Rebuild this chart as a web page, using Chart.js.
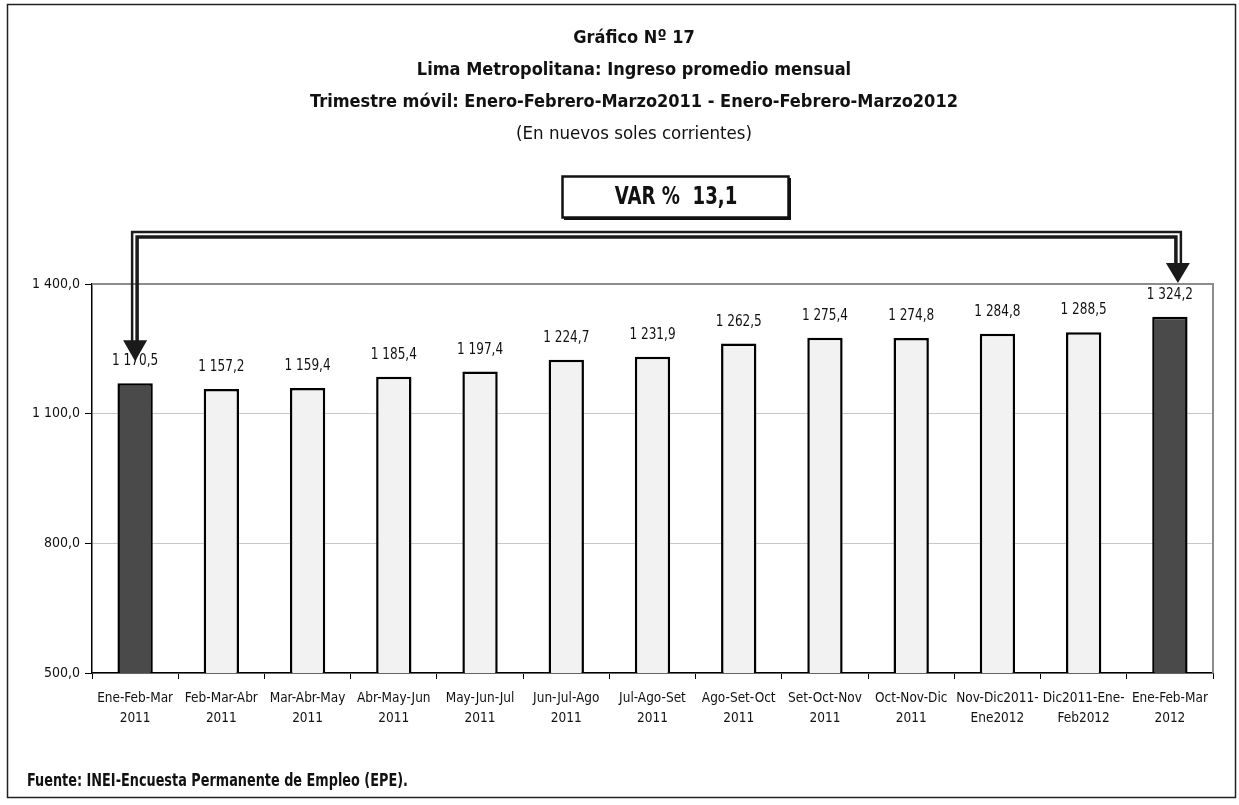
<!DOCTYPE html>
<html>
<head>
<meta charset="utf-8">
<script src="https://cdn.jsdelivr.net/npm/chart.js@4.4.1/dist/chart.umd.min.js"></script>
<style>
  html, body { margin: 0; padding: 0; background: #fff; }
  #wrap { width: 1239px; height: 805px; }
</style>
</head>
<body>
<div id="wrap"><canvas id="ingresoChart" width="1239" height="805"></canvas></div>
<script>
// Datos del gráfico
const trimestres = [
    ['Ene-Feb-Mar', '2011'],
    ['Feb-Mar-Abr', '2011'],
    ['Mar-Abr-May', '2011'],
    ['Abr-May-Jun', '2011'],
    ['May-Jun-Jul', '2011'],
    ['Jun-Jul-Ago', '2011'],
    ['Jul-Ago-Set', '2011'],
    ['Ago-Set-Oct', '2011'],
    ['Set-Oct-Nov', '2011'],
    ['Oct-Nov-Dic', '2011'],
    ['Nov-Dic2011-', 'Ene2012'],
    ['Dic2011-Ene-', 'Feb2012'],
    ['Ene-Feb-Mar', '2012']
];
const ingresos = [1170.5, 1157.2, 1159.4, 1185.4, 1197.4, 1224.7, 1231.9, 1262.5, 1275.4, 1274.8, 1284.8, 1288.5, 1324.2];
const ejeYMin = 500;
const ejeYMax = 1400;
const ejeYPaso = 300;
const titulo = [
    'Gráfico Nº 17',
    'Lima Metropolitana: Ingreso promedio mensual',
    'Trimestre móvil: Enero-Febrero-Marzo2011 - Enero-Febrero-Marzo2012'
];
const subtitulo = '(En nuevos soles corrientes)';
const variacion = 'VAR %  13,1';
const fuente = 'Fuente: INEI-Encuesta Permanente de Empleo (EPE).';

const FONT = "'Liberation Sans Narrow', 'DejaVu Sans Condensed', 'Arial Narrow', sans-serif";
const NARROW = 0.84; // compresión horizontal para textos propios

// 1234.5 -> "1 234,5"
function fmt(v) {
    const parts = v.toFixed(1).split('.');
    return parts[0].replace(/\B(?=(\d{3})+(?!\d))/g, ' ') + ',' + parts[1];
}

// texto comprimido horizontalmente
function narrowText(ctx, txt, x, y, align) {
    ctx.save();
    ctx.translate(x, y);
    ctx.scale(NARROW, 1);
    ctx.textAlign = align;
    ctx.textBaseline = 'middle';
    ctx.fillText(txt, 0, 0);
    ctx.restore();
}

// Dibujos extra: marco, etiquetas, flechas, recuadro VAR y fuente
const decorPlugin = {
    id: 'decor',
    beforeDraw(chart) {
        const ctx = chart.ctx;
        ctx.save();
        ctx.fillStyle = '#fff';
        ctx.fillRect(0, 0, chart.width, chart.height);
        ctx.strokeStyle = '#222';
        ctx.lineWidth = 1.5;
        ctx.strokeRect(7.5, 4.5, 1228, 793);
        ctx.restore();
    },
    afterDatasetsDraw(chart) {
        const ctx = chart.ctx;
        const area = chart.chartArea;
        ctx.save();
        // borde superior y derecho del área de trazado
        ctx.strokeStyle = '#8c8c8c';
        ctx.lineWidth = 2;
        ctx.beginPath();
        ctx.moveTo(area.left, area.top);
        ctx.lineTo(area.right, area.top);
        ctx.lineTo(area.right, area.bottom);
        ctx.stroke();

        // etiquetas de valores
        const meta = chart.getDatasetMeta(0);
        ctx.fillStyle = '#111';
        ctx.font = '16px ' + FONT;
        meta.data.forEach((bar, i) => {
            narrowText(ctx, fmt(ingresos[i]), bar.x, bar.y - 22, 'center');
        });
        ctx.restore();
    },
    afterDraw(chart) {
        const ctx = chart.ctx;
        const area = chart.chartArea;
        const meta = chart.getDatasetMeta(0);
        const first = meta.data[0];
        const last = meta.data[meta.data.length - 1];
        const xa = first.x;
        const xb = last.x + 8;
        const tipA = first.y - 22;
        const tipB = area.top - 1;

        ctx.save();
        ctx.strokeStyle = '#1a1a1a';
        ctx.fillStyle = '#1a1a1a';
        ctx.lineJoin = 'miter';
        // línea doble (delgada afuera, gruesa adentro)
        ctx.lineWidth = 2.5;
        ctx.beginPath();
        ctx.moveTo(xa - 3, tipA - 20);
        ctx.lineTo(xa - 3, 232);
        ctx.lineTo(xb + 3, 232);
        ctx.lineTo(xb + 3, tipB - 19);
        ctx.stroke();
        ctx.lineWidth = 3.5;
        ctx.beginPath();
        ctx.moveTo(xa + 2, tipA - 20);
        ctx.lineTo(xa + 2, 237);
        ctx.lineTo(xb - 2, 237);
        ctx.lineTo(xb - 2, tipB - 19);
        ctx.stroke();
        // puntas de flecha
        ctx.beginPath();
        ctx.moveTo(xa - 12, tipA - 21);
        ctx.lineTo(xa + 12, tipA - 21);
        ctx.lineTo(xa, tipA);
        ctx.closePath();
        ctx.fill();
        ctx.beginPath();
        ctx.moveTo(xb - 12, tipB - 20);
        ctx.lineTo(xb + 12, tipB - 20);
        ctx.lineTo(xb, tipB);
        ctx.closePath();
        ctx.fill();

        // recuadro VAR %
        ctx.fillStyle = '#fff';
        ctx.fillRect(562, 176, 227, 42);
        ctx.strokeStyle = '#111';
        ctx.lineWidth = 2.5;
        ctx.strokeRect(562.5, 176.5, 226, 41);
        ctx.fillStyle = '#111';
        ctx.fillRect(788, 178, 3, 42);
        ctx.fillRect(564, 217, 227, 3);
        ctx.font = 'bold 24px ' + FONT;
        narrowText(ctx, variacion, 676, 198, 'center');

        // fuente
        ctx.font = 'bold 17px ' + FONT;
        narrowText(ctx, fuente, 27, 782, 'left');
        ctx.restore();
    }
};

const ctx = document.getElementById('ingresoChart').getContext('2d');
const lastIdx = ingresos.length - 1;

new Chart(ctx, {
    type: 'bar',
    data: {
        labels: trimestres,
        datasets: [{
            data: ingresos,
            backgroundColor: c => (c.dataIndex === 0 || c.dataIndex === lastIdx) ? '#4a4a4a' : '#f2f2f2',
            borderColor: '#000',
            borderWidth: 2.5,
            borderSkipped: false,
            categoryPercentage: 1,
            barPercentage: 0.41
        }]
    },
    plugins: [decorPlugin],
    options: {
        responsive: false,
        animation: false,
        layout: { padding: { left: 29, right: 0, top: 0, bottom: 0 } },
        plugins: {
            legend: { display: false },
            tooltip: { enabled: false },
            title: {
                display: true,
                text: titulo,
                color: '#111',
                font: { family: FONT, size: 18, weight: 'bold', lineHeight: 32 / 18 },
                padding: { top: 22, bottom: 0 }
            },
            subtitle: {
                display: true,
                text: subtitulo,
                color: '#111',
                font: { family: FONT, size: 18.5, lineHeight: 32 / 18.5 },
                padding: { top: 0, bottom: 134 }
            }
        },
        scales: {
            x: {
                afterFit: s => { s.height = 132; },
                border: { color: '#000', width: 1.5 },
                grid: { drawOnChartArea: false, color: '#000', tickLength: 6 },
                ticks: {
                    color: '#111',
                    padding: 9,
                    maxRotation: 0,
                    autoSkip: false,
                    font: { family: FONT, size: 13.5, lineHeight: 20 / 13.5 }
                }
            },
            y: {
                min: ejeYMin,
                max: ejeYMax,
                afterFit: s => { s.width = 63; },
                border: { color: '#000', width: 1.5 },
                grid: {
                    color: c => c.tick && c.tick.value === ejeYMax ? '#8c8c8c' : '#c8c8c8',
                    tickColor: '#000',
                    tickLength: 7
                },
                ticks: {
                    stepSize: ejeYPaso,
                    color: '#111',
                    padding: 5,
                    font: { family: FONT, size: 14 },
                    callback: v => fmt(v)
                }
            },
            // eje vacío a la derecha, sólo reserva margen
            margen: {
                type: 'linear',
                position: 'right',
                grid: { display: false },
                border: { display: false },
                ticks: { display: false },
                afterFit: s => { s.width = 26; }
            }
        }
    }
});
</script>
</body>
</html>
